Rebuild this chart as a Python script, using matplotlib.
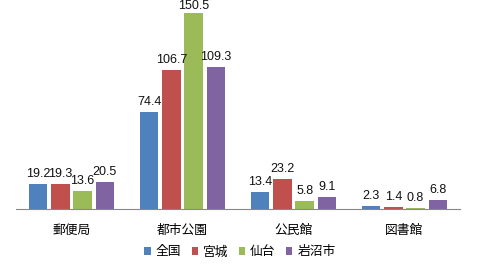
import matplotlib
matplotlib.use("Agg")
import matplotlib.pyplot as plt
import numpy as np

plt.rcParams['font.family'] = ['Noto Sans CJK JP', 'DejaVu Sans']

categories = ['郵便局', '都市公園', '公民館', '図書館']
series_names = ['全国', '宮城', '仙台', '岩沼市']
zenkoku = [19.2, 74.4, 13.4, 2.3]
miyagi = [19.3, 106.7, 23.2, 1.4]
sendai = [13.6, 150.5, 5.8, 0.8]
iwanuma = [20.5, 109.3, 9.1, 6.8]
series = [zenkoku, miyagi, sendai, iwanuma]
colors = ['#4F81BD', '#C0504D', '#9BBB59', '#8064A2']

fig = plt.figure(figsize=(4.78, 2.67), dpi=100)
ax = fig.add_axes([16/478, 1 - 209/267, 444/478, 208/267])

ymax = 160
x = np.arange(len(categories))
step = 0.2
width = 0.165
px = ymax / 208.0
for i, (vals, c, name) in enumerate(zip(series, colors, series_names)):
    pos = x + (i - 1.5) * step
    ax.bar(pos, vals, width=width, color=c, label=name)
    for p, v in zip(pos, vals):
        ly = min(v + 4 * px, ymax - 11 * px)
        ax.text(p, ly, f'{v}', ha='center', va='bottom', fontsize=9,
                family='Liberation Sans', color='#111111')

ax.set_xlim(-0.5, 3.5)
ax.set_ylim(0, ymax)
ax.set_yticks([])
ax.set_xticks(x)
ax.set_xticklabels(categories, fontsize=9.2)
ax.tick_params(axis='x', length=0, pad=10.5)
for s in ['top', 'right', 'left']:
    ax.spines[s].set_visible(False)
ax.spines['bottom'].set_color('#888888')

fig.legend(loc='center', bbox_to_anchor=(240/478, 1 - 252/267), ncol=4, frameon=False,
           fontsize=9.2, handlelength=0.5, handleheight=0.5, handletextpad=0.4,
           columnspacing=0.8)

fig.savefig('out.png', dpi=100)
